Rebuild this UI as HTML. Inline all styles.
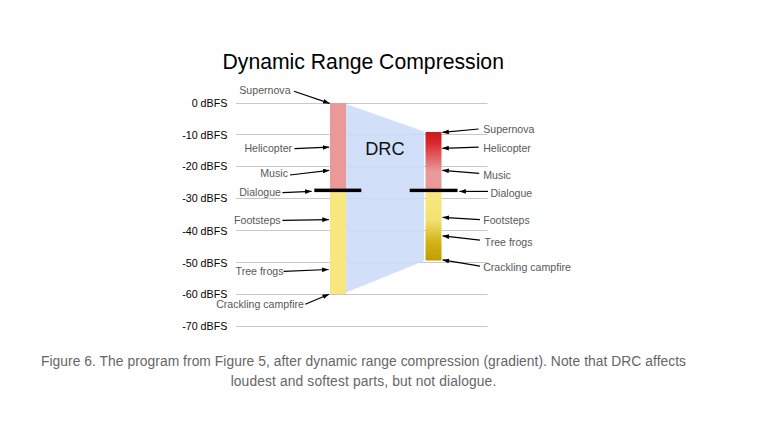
<!DOCTYPE html>
<html>
<head>
<meta charset="utf-8">
<style>
html,body{margin:0;padding:0;background:#fff;width:761px;height:429px;overflow:hidden;}
svg{position:absolute;left:0;top:0;}
.cap{position:absolute;left:0;width:727px;top:351.5px;text-align:center;font-family:"Liberation Sans",sans-serif;font-size:13.8px;letter-spacing:0.06px;line-height:20px;color:#666;}
</style>
</head>
<body>
<svg width="761" height="429" viewBox="0 0 761 429" font-family="Liberation Sans, sans-serif">
<defs>
  <linearGradient id="gr" x1="0" y1="0" x2="0" y2="1">
    <stop offset="0" stop-color="#c81c1c"/>
    <stop offset="0.18" stop-color="#d8262a"/>
    <stop offset="0.68" stop-color="#e9999b"/>
    <stop offset="1" stop-color="#ea9999"/>
  </linearGradient>
  <linearGradient id="gy" x1="0" y1="0" x2="0" y2="1">
    <stop offset="0" stop-color="#f8e77e"/>
    <stop offset="0.42" stop-color="#f3e272"/>
    <stop offset="0.74" stop-color="#d2b318"/>
    <stop offset="1" stop-color="#c29d00"/>
  </linearGradient>
  <marker id="ah" viewBox="0 0 10 10" refX="10" refY="5" markerWidth="6.5" markerHeight="4.8" preserveAspectRatio="none" markerUnits="userSpaceOnUse" orient="auto">
    <path d="M0,0 L10,5 L0,10 z" fill="#000"/>
  </marker>
</defs>
<!-- title -->
<text x="222.5" y="69" font-size="21.2" fill="#000">Dynamic Range Compression</text>


<!-- gridlines -->
<g fill="#c8c8c8">
  <rect x="236" y="103" width="251.5" height="1"/>
  <rect x="236" y="134" width="251.5" height="1"/>
  <rect x="236" y="166" width="251.5" height="1"/>
  <rect x="236" y="198" width="251.5" height="1"/>
  <rect x="236" y="230" width="251.5" height="1"/>
  <rect x="236" y="262" width="251.5" height="1"/>
  <rect x="236" y="294" width="251.5" height="1"/>
  <rect x="236" y="326" width="251.5" height="1"/>
</g>

<!-- blue DRC region -->
<polygon points="346,104 424,131.5 424,261 346,292.5" fill="#cbdbf7" fill-opacity="0.88"/>

<!-- axis labels -->
<g font-size="10.7" fill="#000" text-anchor="end">
  <text x="227.3" y="106.8">0 dBFS</text>
  <text x="227.3" y="138.7">-10 dBFS</text>
  <text x="227.3" y="170.3">-20 dBFS</text>
  <text x="227.3" y="202.3">-30 dBFS</text>
  <text x="227.3" y="234.7">-40 dBFS</text>
  <text x="227.3" y="266.7">-50 dBFS</text>
  <text x="227.3" y="298.3">-60 dBFS</text>
  <text x="227.3" y="330.3">-70 dBFS</text>
</g>

<!-- left bar -->
<rect x="330" y="103" width="16" height="87" fill="#ea9999"/>
<rect x="330" y="190" width="16" height="104" fill="#f8e67f"/>
<!-- right bar -->
<rect x="425.5" y="132" width="16" height="58" fill="url(#gr)"/>
<rect x="425.5" y="190" width="16" height="70.5" fill="url(#gy)"/>

<!-- dialogue bars -->
<rect x="314.3" y="188.6" width="47" height="3.5" fill="#000"/>
<rect x="409.7" y="188.7" width="47.8" height="3.4" fill="#000"/>

<!-- DRC -->
<text x="365.2" y="155" font-size="18.2" fill="#111">DRC</text>

<!-- left labels -->
<g font-size="10.6" fill="#595959">
  <text x="239.3" y="94.2">Supernova</text>
  <text x="244.4" y="152">Helicopter</text>
  <text x="260.3" y="176.6">Music</text>
  <text x="239.2" y="195.9">Dialogue</text>
  <text x="234.1" y="223.5">Footsteps</text>
  <text x="235.6" y="274.9">Tree frogs</text>
  <text x="216.2" y="307.9">Crackling campfire</text>
</g>
<!-- right labels -->
<g font-size="10.6" fill="#595959">
  <text x="483.2" y="132.8">Supernova</text>
  <text x="483.2" y="151.6">Helicopter</text>
  <text x="483.2" y="178.9">Music</text>
  <text x="490.4" y="196.6">Dialogue</text>
  <text x="483.2" y="224.3">Footsteps</text>
  <text x="484.6" y="245.7">Tree frogs</text>
  <text x="483.2" y="270.8">Crackling campfire</text>
</g>

<!-- arrows -->
<g stroke="#000" stroke-width="1.2" fill="none" marker-end="url(#ah)">
  <line x1="294" y1="91.2" x2="329.6" y2="103.4"/>
  <line x1="294.4" y1="148.7" x2="329.2" y2="147.2"/>
  <line x1="290" y1="175" x2="329.2" y2="170.3"/>
  <line x1="282.4" y1="192.6" x2="311.6" y2="191.3"/>
  <line x1="282.4" y1="220.4" x2="328.8" y2="219.6"/>
  <line x1="283.6" y1="271.4" x2="328.6" y2="269.5"/>
  <line x1="305.3" y1="304.3" x2="329" y2="294.2"/>

  <line x1="478.6" y1="129" x2="442.3" y2="132.4"/>
  <line x1="478.6" y1="147.2" x2="442.3" y2="148.3"/>
  <line x1="479.2" y1="173.3" x2="442.3" y2="170.3"/>
  <line x1="488" y1="191.4" x2="459.4" y2="191.4"/>
  <line x1="479.9" y1="219.6" x2="442.6" y2="217.3"/>
  <line x1="480" y1="240.1" x2="442.6" y2="235.9"/>
  <line x1="480" y1="266.2" x2="442.6" y2="259.9"/>
</g>
</svg>
<div class="cap">Figure 6. The program from Figure 5, after dynamic range compression (gradient). Note that DRC affects<br><span style="letter-spacing:0.13px">loudest and softest parts, but not dialogue.</span></div>
</body>
</html>
